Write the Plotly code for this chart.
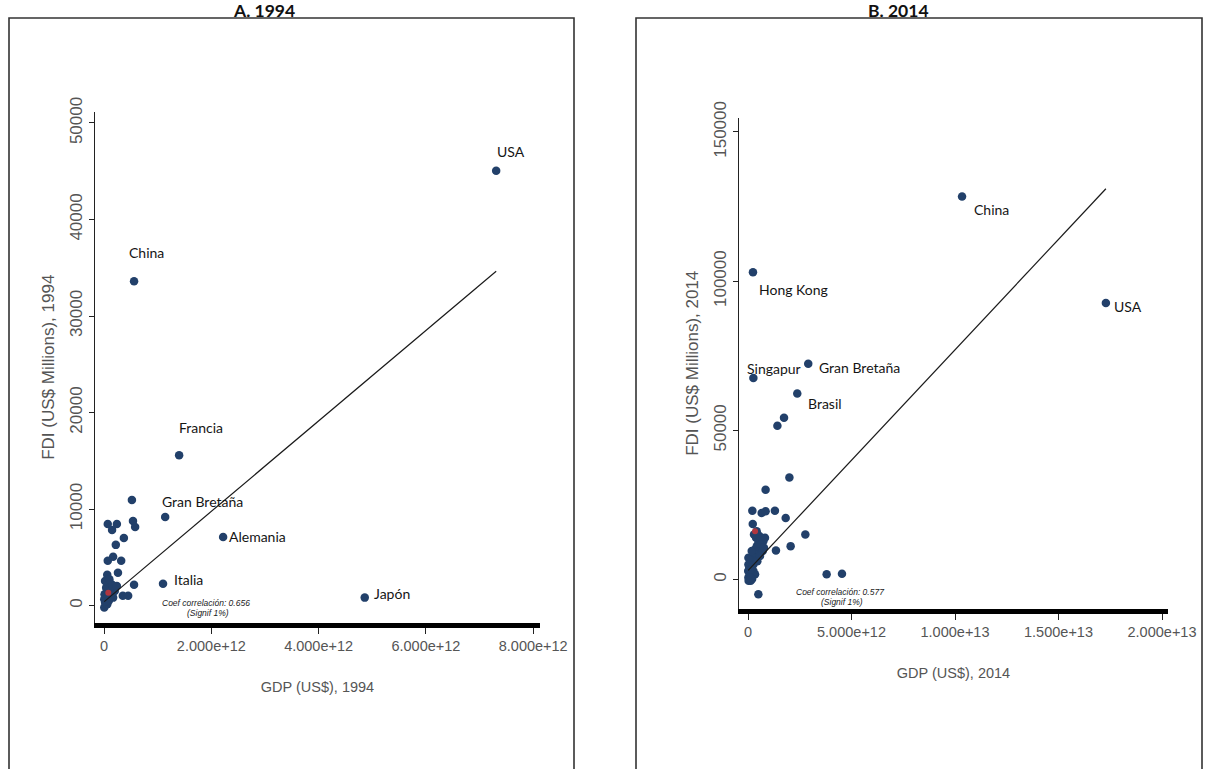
import numpy as np
import plotly.graph_objects as go

# ---------------- DATA ----------------
# Panel A (1994): labelled countries
names_94 = ["USA", "China", "Francia", "Gran Bretaña", "Alemania", "Italia", "Japón"]
gdp_94_lab = [7.31e12, 0.56e12, 1.40e12, 1.14e12, 2.22e12, 1.10e12, 4.86e12]
fdi_94_lab = [45050, 33610, 15570, 9180, 7110, 2270, 825]
# Panel A (1994): other countries (GDP in 1e12 US$, FDI in US$ millions)
gdp_94_oth_tn = [0.52, 0.07, 0.24, 0.15, 0.54, 0.58, 0.37, 0.22, 0.17, 0.07, 0.32, 0.26, 0.06,
                 0.56, 0.35, 0.45, 0.005, 0.02, 0.05, 0.01, 0.08, 0.11, 0.04, 0.14, 0.02, 0.10,
                 0.17, 0.20, 0.06, 0.005, 0.12, 0.16, 0.24, 0.03, 0.09]
fdi_94_oth = [10930, 8450, 8450, 7840, 8760, 8140, 7010, 6290, 5050, 4640, 4640, 3400, 3200,
              2170, 1030, 1030, -200, 310, 825, 1170, 1340, 1860, 1860, 2200, 2540, 2720,
              825, 1510, 140, 650, 1000, 1680, 2030, 400, 500]
mean_94 = (0.08e12, 1340)
fit_94 = {"intercept": 390, "slope_per_tn": 4686}
corr_94 = "0.656"

# Panel B (2014): labelled countries
names_14 = ["China", "USA", "Hong Kong", "Singapur", "Gran Bretaña", "Brasil"]
gdp_14_lab = [10.34e12, 17.29e12, 0.24e12, 0.26e12, 2.91e12, 2.38e12]
fdi_14_lab = [128330, 92670, 103000, 67570, 72330, 62330]
# Panel B (2014): other countries (GDP in 1e12 US$, FDI in US$ millions)
gdp_14_oth_tn = [1.42, 1.74, 2.00, 0.85, 0.21, 0.66, 0.85, 1.30, 1.82, 0.23, 2.77, 2.06, 1.35,
                 3.80, 4.54, 0.50,
                 0.03, 0.02, 0.10, 0.01, 0.06, 0.18, 0.26, 0.10, 0.23, 0.34, 0.02, 0.42, 0.26,
                 0.50, 0.34, 0.58, 0.42, 0.66, 0.50, 0.74, 0.61, 0.39, 0.55, 0.82, 0.71, 0.77,
                 0.26, 0.13, 0.34, 0.45, 0.58, 0.18, 0.02, 0.29, 0.42, 0.05, 0.08, 0.15, 0.20, 0.12]
fdi_14_oth = [51570, 54230, 34230, 30100, 23100, 22330, 22900, 23100, 20670, 18670, 15100, 11230, 9770,
              1770, 2000, -4900,
              -400, 700, 1800, 2900, 4000, 4600, 5100, 5700, 6800, 7300, 7300, 8400, 9000,
              9600, 10100, 10700, 11200, 11800, 12300, 12900, 13400, 14000, 14600, 14000, 9600, 10700,
              2900, -400, 1800, 6200, 7900, 9600, 5100, 15100, 16200, 300, 1200, 3500, 200, 600]
mean_14 = (0.34e12, 16230)
fit_14 = {"intercept": 3010, "slope_per_tn": 7400}
corr_14 = "0.577"

# Axis ticks
x94_ticks = [0, 2e12, 4e12, 6e12, 8e12]
x94_text = ["0", "2.000e+12", "4.000e+12", "6.000e+12", "8.000e+12"]
y94_ticks = [0, 10000, 20000, 30000, 40000, 50000]
y94_text = ["0", "10000", "20000", "30000", "40000", "50000"]
x14_ticks = [0, 5e12, 1e13, 1.5e13, 2e13]
x14_text = ["0", "5.000e+12", "1.000e+13", "1.500e+13", "2.000e+13"]
y14_ticks = [0, 50000, 100000, 150000]
y14_text = ["0", "50000", "100000", "150000"]

# Label offsets (pixels) for each labelled country: (xshift, yshift)
lab_off_94 = [(-1, 19), (-7, 29), (-2, 28), (-5, 15), (4, 0), (9, 4), (7, 4)]
lab_off_14 = [(10, -13), (6, -3), (4, -17), (-8, 9), (9, -4), (9, -10)]

# ---------------- FIGURE ----------------
W, H = 1212, 769
DOT = "#22406a"
AX_FONT = "Liberation Sans, Arial, sans-serif"
LAB_FONT = "Lato, sans-serif"

fig = go.Figure()


def add_panel(xa, ya, gdp_lab, fdi_lab, gdp_oth_tn, fdi_oth, mean, fit):
    gdp_oth = [g * 1e12 for g in gdp_oth_tn]
    fig.add_trace(go.Scatter(x=gdp_oth, y=fdi_oth, mode="markers", xaxis=xa, yaxis=ya,
                             marker=dict(color=DOT, size=8.5), showlegend=False, hoverinfo="x+y"))
    fig.add_trace(go.Scatter(x=gdp_lab, y=fdi_lab, mode="markers", xaxis=xa, yaxis=ya,
                             marker=dict(color=DOT, size=8.5), showlegend=False, hoverinfo="x+y"))
    fig.add_trace(go.Scatter(x=[mean[0]], y=[mean[1]], mode="markers", xaxis=xa, yaxis=ya,
                             marker=dict(color="#b0363f", size=6), showlegend=False))
    allx = np.array(gdp_oth + list(gdp_lab))
    fx = np.array([max(allx.min(), 0), allx.max()])
    fy = fit["intercept"] + fit["slope_per_tn"] * fx / 1e12
    fig.add_trace(go.Scatter(x=fx, y=fy, mode="lines", xaxis=xa, yaxis=ya,
                             line=dict(color="#1a1a1a", width=1.2), showlegend=False))


add_panel("x", "y", gdp_94_lab, fdi_94_lab, gdp_94_oth_tn, fdi_94_oth, mean_94, fit_94)
add_panel("x2", "y2", gdp_14_lab, fdi_14_lab, gdp_14_oth_tn, fdi_14_oth, mean_14, fit_14)

annotations = []
for n, gx, fy, (dx, dy) in zip(names_94, gdp_94_lab, fdi_94_lab, lab_off_94):
    annotations.append(dict(x=gx, y=fy, xref="x", yref="y", text=n, showarrow=False,
                            xanchor="left", yanchor="middle", xshift=dx, yshift=dy,
                            font=dict(family=LAB_FONT, size=14, color="#151515")))
for n, gx, fy, (dx, dy) in zip(names_14, gdp_14_lab, fdi_14_lab, lab_off_14):
    annotations.append(dict(x=gx, y=fy, xref="x2", yref="y2", text=n, showarrow=False,
                            xanchor="left", yanchor="middle", xshift=dx, yshift=dy,
                            font=dict(family=LAB_FONT, size=14, color="#151515")))


def px2p(px, py):
    return px / W, 1 - py / H


# Correlation notes
for (cx, cy), corr in [((206, 603), corr_94), ((840, 592), corr_14)]:
    x, y = px2p(cx, cy)
    annotations.append(dict(x=x, y=y, xref="paper", yref="paper", showarrow=False,
                            text="<i>Coef correlación: " + corr + "</i>",
                            font=dict(family=AX_FONT, size=8.5, color="#222"),
                            xanchor="center", yanchor="middle"))
    x, y = px2p(cx + 2, cy + 10)
    annotations.append(dict(x=x, y=y, xref="paper", yref="paper", showarrow=False,
                            text="<i>(Signif 1%)</i>",
                            font=dict(family=AX_FONT, size=8.5, color="#222"),
                            xanchor="center", yanchor="middle"))

# Panel titles
for cx, t in [(264, "A. 1994"), (898, "B. 2014")]:
    annotations.append(dict(x=cx / W, y=1.0, xref="paper", yref="paper", showarrow=False,
                            text="<b>" + t + "</b>", borderpad=0, yshift=1,
                            font=dict(family="Lato, sans-serif", size=17.5, color="#111"),
                            xanchor="center", yanchor="top"))

# Panel frames
shapes = []
for x0, x1 in [(9, 574), (636, 1202)]:
    shapes.append(dict(type="rect", xref="paper", yref="paper",
                       x0=x0 / W, x1=x1 / W, y0=-0.05, y1=1 - 18 / H,
                       line=dict(color="#333", width=1.6), fillcolor="rgba(0,0,0,0)", layer="below"))


def xaxis_cfg(dom_px, rng, tv, tt, title):
    return dict(domain=[dom_px[0] / W, dom_px[1] / W], range=rng, showgrid=False, zeroline=False,
                automargin=False,
                showline=True, linecolor="#000", linewidth=5, ticks="outside", ticklen=6,
                tickwidth=1, tickcolor="#222", tickvals=tv, ticktext=tt,
                tickfont=dict(family=AX_FONT, size=14.5, color="#555"),
                title=dict(text=title, font=dict(family=AX_FONT, size=14.5, color="#555"), standoff=30))


def yaxis_cfg(dom_py, rng, tv, tt, title, anchor):
    return dict(domain=[1 - dom_py[0] / H, 1 - dom_py[1] / H], range=rng, showgrid=False,
                zeroline=False, automargin=False, showline=True, linecolor="#222", linewidth=1,
                ticks="outside", ticklen=5, tickwidth=1, tickcolor="#222", tickvals=tv,
                ticktext=tt, tickangle=-90,
                tickfont=dict(family=AX_FONT, size=17, color="#555"), anchor=anchor,
                title=dict(text=title, font=dict(family=AX_FONT, size=17, color="#555"), standoff=8))


fig.update_layout(
    width=W, height=H, autosize=False,
    margin=dict(l=0, r=0, t=0, b=0, pad=0, autoexpand=False),
    paper_bgcolor="white", plot_bgcolor="white",
    showlegend=False,
    xaxis=xaxis_cfg((95, 540), [-0.168e12, 8.127e12], x94_ticks, x94_text, "GDP (US$), 1994") | dict(anchor="y"),
    yaxis=yaxis_cfg((622.5, 112), [-1753, 51138], y94_ticks, y94_text, "FDI (US$ Millions), 1994", "x"),
    xaxis2=xaxis_cfg((739, 1168), [-0.435e12, 20.29e12], x14_ticks, x14_text, "GDP (US$), 2014") | dict(anchor="y2"),
    yaxis2=yaxis_cfg((608.5, 118), [-9667, 154667], y14_ticks, y14_text, "FDI (US$ Millions), 2014", "x2"),
    annotations=annotations,
    shapes=shapes,
)

fig.write_html(
    "out.html",
    config={"displayModeBar": False, "responsive": False},
    post_script="document.body.style.margin='0';document.body.style.padding='0';"
                "document.documentElement.style.overflow='hidden';document.body.style.overflow='hidden';",
)
